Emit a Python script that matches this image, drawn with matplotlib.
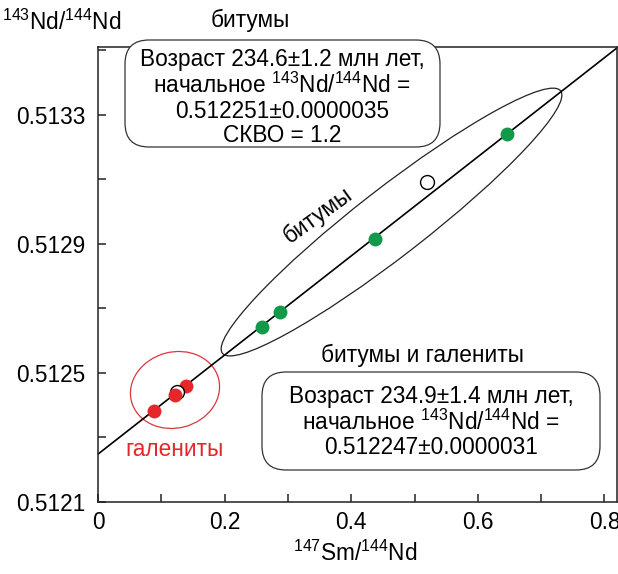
import numpy as np
import matplotlib
matplotlib.use("Agg")
import matplotlib.pyplot as plt
from matplotlib.patches import Ellipse, FancyBboxPatch
import matplotlib.transforms as mtransforms
from matplotlib.ticker import FixedLocator

plt.rcParams['font.family'] = ['Liberation Sans', 'DejaVu Sans']
plt.rcParams['mathtext.fontset'] = 'custom'
plt.rcParams['mathtext.rm'] = 'Liberation Sans'
plt.rcParams['font.size'] = 16.3

# 147Sm/144Nd and 143Nd/144Nd
bitumen_x = [0.259, 0.2875, 0.4376, 0.646]
bitumen_y = [0.512641, 0.512688, 0.512914, 0.513240]
bitumen_open_x = [0.520]
bitumen_open_y = [0.513091]

galena_x = [0.0885, 0.1216, 0.139]
galena_y = [0.512381, 0.512430, 0.512458]
galena_open_x = [0.125]
galena_open_y = [0.512441]

# isochron: age (Ma) and initial ratio
age_ma = 234.9
nd_initial = 0.512247
lam_sm = 6.54e-12

x_ticks = [0, 0.2, 0.4, 0.6, 0.8]
x_ticklabels = ['0', '0.2', '0.4', '0.6', '0.8']
x_minor = [0.1, 0.3, 0.5, 0.7]
y_ticks = [0.5121, 0.5125, 0.5129, 0.5133]
y_ticklabels = ['0.5121', '0.5125', '0.5129', '0.5133']
y_minor = [0.5123, 0.5127, 0.5131, 0.5135]

green = '#12994a'
red = '#e5262b'

fig = plt.figure(figsize=(6.18, 5.74), dpi=100)
ax = fig.add_axes([0.1586, 0.1263, 0.839, 0.7918])
ax.set_xlim(0, 0.819)
ax.set_ylim(0.5121, 0.51351)

slope = np.exp(lam_sm * age_ma * 1e6) - 1
xx = np.array([0, 0.819])
ax.plot(xx, nd_initial + slope * xx, color='black', lw=1.2, zorder=2)

# error ellipses, sized in pixels around a data centre
def px_ellipse(cx, cy, w, h, angle, color, lw):
    tr = mtransforms.Affine2D() + mtransforms.ScaledTranslation(cx, cy, ax.transData)
    e = Ellipse((0, 0), w, h, angle=angle, transform=tr, fill=False,
                edgecolor=color, lw=lw, zorder=1)
    ax.add_patch(e)

px_ellipse(0.4636, 0.512967, 428, 68, 37.8, '#222222', 0.9)
px_ellipse(0.1216, 0.512446, 90, 76, 15, '#d8373c', 0.9)

ax.plot(bitumen_x, bitumen_y, 'o', color=green, ms=10, mec='none', zorder=3)
ax.plot(bitumen_open_x, bitumen_open_y, 'o', mfc='white', mec='black',
        ms=10, mew=1, zorder=3)
ax.plot(galena_x[::2], galena_y[::2], 'o', color=red, ms=10, mec='none', zorder=3)
ax.plot(galena_open_x, galena_open_y, 'o', mfc='white', mec='black',
        ms=10, mew=1, zorder=4)
ax.plot(galena_x[1:2], galena_y[1:2], 'o', color=red, ms=10, mec='none', zorder=5)

ax.xaxis.set_major_locator(FixedLocator(x_ticks))
ax.xaxis.set_minor_locator(FixedLocator(x_minor))
ax.set_xticklabels(x_ticklabels)
ax.yaxis.set_major_locator(FixedLocator(y_ticks))
ax.yaxis.set_minor_locator(FixedLocator(y_minor))
ax.set_yticklabels(y_ticklabels)
ax.tick_params(which='both', direction='in', length=6, width=1.1, color='#222222')
ax.tick_params(axis='y', pad=9, labelsize=16.3)
ax.tick_params(axis='x', pad=7, labelsize=16.3)
for s in ax.spines.values():
    s.set_linewidth(1.1)
    s.set_color('#222222')

# rounded frames for the two result blocks (inches from the figure corner)
def frame(x0, y0, w, h):
    p = FancyBboxPatch((x0, y0), w, h, boxstyle='round,pad=0,rounding_size=0.24',
                       transform=fig.dpi_scale_trans, fc='white', ec='#333333',
                       lw=0.9, zorder=6, clip_on=False)
    ax.add_artist(p)

frame(1.25, 4.27, 3.15, 1.07)
frame(2.62, 1.04, 3.38, 0.98)

ax.text(0.2907, 0.513353,
        'Возраст 234.6±1.2 млн лет,\n'
        r'начальное $\mathregular{^{143}}$Nd/$\mathregular{^{144}}$Nd =' '\n'
        '0.512251±0.0000035\nСКВО = 1.2',
        ha='center', va='center', linespacing=1.08, zorder=7, clip_on=False)
ax.text(0.526, 0.512347,
        'Возраст 234.9±1.4 млн лет,\n'
        r'начальное $\mathregular{^{143}}$Nd/$\mathregular{^{144}}$Nd =' '\n'
        '0.512247±0.0000031',
        ha='center', va='center', linespacing=1.08, zorder=7)

ax.text(0.3475, 0.512988, 'битумы', rotation=36, ha='center', va='center',
        rotation_mode='anchor')
ax.text(0.513, 0.512554, 'битумы и галениты', ha='center', va='center')
ax.text(0.1216, 0.51226, 'галениты', color=red, ha='center', va='center')

fig.text(0.4045, 0.965, 'битумы', ha='center', va='center')
fig.text(0.1, 0.962, r'$\mathregular{^{143}}$Nd/$\mathregular{^{144}}$Nd',
         ha='center', va='center')
fig.text(0.574, 0.0366, r'$\mathregular{^{147}}$Sm/$\mathregular{^{144}}$Nd',
         ha='center', va='center')

fig.savefig('out.png', dpi=100)
